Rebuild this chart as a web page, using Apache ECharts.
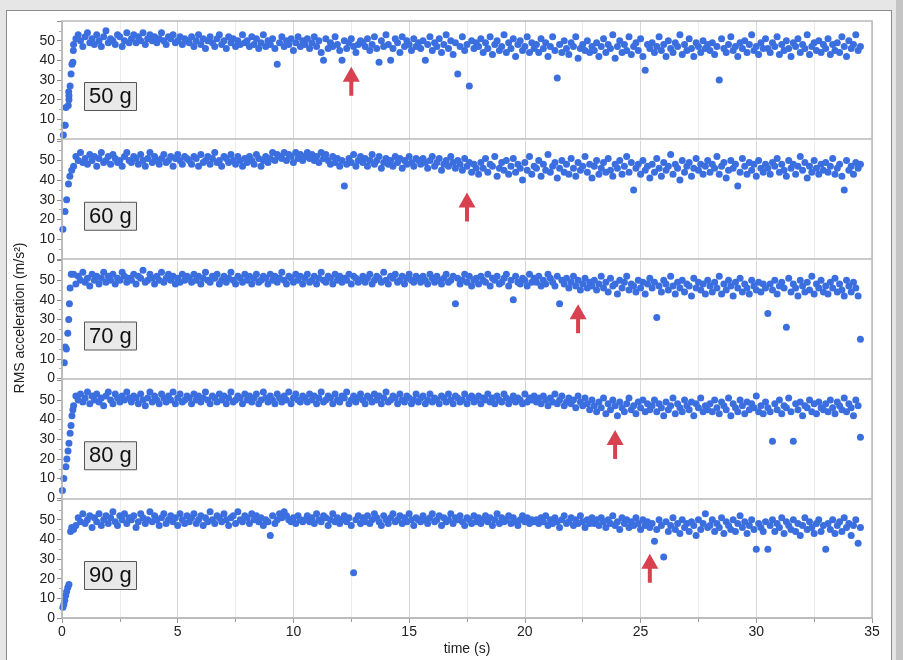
<!DOCTYPE html>
<html>
<head>
<meta charset="utf-8">
<script src="https://cdn.jsdelivr.net/npm/echarts@6/dist/echarts.min.js"></script>
<style>
  html, body { margin: 0; padding: 0; width: 903px; height: 660px; overflow: hidden; background: #e6e6e6; }
  #sheet { position: absolute; left: 6px; top: 10px; width: 884px; height: 660px; background: #fff;
           border-left: 1px solid #8a8a8a; border-top: 1px solid #8a8a8a; border-right: 1px solid #8a8a8a; }
  #shade { position: absolute; left: 896px; top: 0; width: 7px; height: 660px; background: #c4c4c4; }
  #chart { position: absolute; left: 0; top: 0; width: 903px; height: 660px; }
</style>
</head>
<body>
<div id="sheet"></div>
<div id="shade"></div>
<div id="chart"></div>
<script>
// Bob loads, one panel each
const massLabels = ['50 g', '60 g', '70 g', '80 g', '90 g'];

// Start-up transient (time in s, RMS acceleration in m/s²)
const rampTimes50  = [0.06, 0.1, 0.14, 0.17, 0.27, 0.3, 0.3, 0.29, 0.35, 0.39, 0.43, 0.47, 0.49];
const rampValues50 = [2, 7, 7, 16, 17, 20, 22, 24, 27, 33, 38, 39, 45];
const rampTimes60  = [0.04, 0.13, 0.2, 0.28, 0.34, 0.42];
const rampValues60 = [15, 24, 30, 38, 42, 45];
const rampTimes70  = [0.1, 0.14, 0.19, 0.25, 0.29, 0.32, 0.35, 0.4];
const rampValues70 = [8, 16, 15, 23, 30, 38, 46, 53];
const rampTimes80  = [0.02, 0.08, 0.17, 0.21, 0.26, 0.3, 0.35, 0.39, 0.43, 0.47];
const rampValues80 = [4, 10, 16, 20, 24, 28, 33, 37, 42, 45];
const rampTimes90  = [0.04, 0.08, 0.12, 0.16, 0.2, 0.25, 0.3, 0.37, 0.42];
const rampValues90 = [5.5, 7, 9, 11.5, 13.5, 15.5, 17, 44, 46];

// Steady running, sampled every 0.1 s from 0.5 s (one row = 2.5 s)
const sampleStart = 0.5;
const sampleStep = 0.1;

const rms50 = [
  48,51,53,50,47,52,54,49,51,48,53,50,47,52,55,49,51,50,48,53,52,47,50,54,49,
  51,53,49,52,50,54,48,51,53,50,52,49,51,54,50,48,52,51,53,49,50,52,48,51,50,
  49,52,47,50,53,48,51,46,50,52,49,47,51,53,48,50,46,52,49,51,47,50,48,53,49,
  50,47,52,48,51,46,49,53,47,50,48,51,46,38,49,52,47,50,48,51,45,49,52,47,50,
  48,51,46,49,52,47,50,44,40,51,46,49,47,52,48,45,40,50,46,49,51,47,44,48,50,
  49,47,51,45,48,52,46,39,50,47,53,48,40,46,51,49,44,52,47,50,48,45,51,47,49,
  46,50,40,48,52,45,49,47,51,44,48,53,46,50,43,49,33,47,52,45,48,27,50,46,49,
  47,51,44,49,46,52,43,48,50,45,47,53,44,49,46,51,42,48,50,45,47,52,44,49,46,
  48,44,51,46,49,42,47,52,45,31,48,44,50,46,43,49,47,52,41,46,48,45,50,44,47,
  45,49,42,47,51,44,48,46,53,41,47,50,44,48,45,52,43,47,49,45,51,42,35,48,46,
  49,44,47,52,45,48,42,50,46,44,49,47,53,43,48,45,51,46,42,49,47,44,50,46,48,
  45,49,43,47,30,51,46,44,48,52,45,47,42,49,46,50,44,48,53,45,47,43,49,46,51,
  46,44,49,47,52,43,48,45,50,46,42,49,47,51,44,48,46,53,43,47,49,45,50,44,48,
  46,51,43,48,45,49,44,52,47,42,50,46,48,53,45,47
];

const rms60 = [
  47,52,50,54,49,51,48,53,50,52,47,51,54,49,50,52,48,53,51,49,50,47,52,54,50,
  49,52,51,48,53,50,47,51,54,49,52,50,48,51,53,49,50,52,47,51,53,50,48,52,51,
  50,48,52,51,47,53,49,50,52,48,51,54,49,50,47,52,51,49,53,50,48,52,50,47,51,
  49,52,50,48,53,51,47,50,52,49,51,54,50,53,52,51,54,50,53,52,49,54,51,53,50,
  52,54,51,53,50,52,49,54,51,53,50,48,52,49,51,47,50,37,48,51,49,53,47,50,52,
  49,51,47,50,53,48,50,52,46,49,51,48,50,47,52,49,51,46,50,48,52,49,47,51,50,
  48,51,49,46,50,52,47,49,51,45,48,50,47,52,49,46,50,48,45,51,47,49,44,48,46,
  43,49,46,51,44,48,47,52,42,46,49,45,50,43,47,51,44,48,46,40,49,45,52,43,47,
  46,50,42,48,45,53,44,47,49,41,46,50,44,48,43,51,46,42,49,45,47,52,44,48,41,
  47,50,43,46,49,44,51,45,42,48,46,50,43,47,52,44,49,35,46,48,43,50,45,47,41,
  48,44,51,46,42,49,45,47,53,43,48,46,40,50,44,47,49,42,46,51,45,48,43,47,50,
  44,48,46,52,43,47,49,41,45,50,46,48,37,44,51,47,43,49,45,48,42,50,46,44,48,
  46,43,49,47,51,44,48,45,42,50,46,48,43,47,52,45,49,41,47,44,50,46,43,48,45,
  49,44,47,51,43,46,48,42,35,50,45,47,43,49,46,48
];

const rms70 = [
  53,48,52,50,54,49,51,47,53,50,52,48,51,54,49,52,50,53,48,51,50,54,52,49,51,
  50,53,48,52,51,55,49,50,53,51,48,52,50,54,49,51,53,50,52,48,51,49,53,50,52,
  51,49,53,50,52,48,51,54,50,49,52,51,53,48,50,52,49,51,54,50,48,52,51,49,53,
  50,52,48,51,53,49,50,52,51,48,53,50,52,49,51,54,50,48,52,51,49,53,50,52,48,
  51,53,49,50,52,48,51,54,50,49,52,51,48,53,50,52,49,51,50,53,48,52,51,49,50,
  52,49,51,53,48,50,52,51,49,54,50,48,52,51,53,49,50,52,48,51,53,50,49,52,51,
  49,52,50,48,53,51,49,52,50,48,51,53,49,50,52,38,51,48,50,53,49,52,47,50,51,
  48,52,50,49,53,47,51,50,52,48,49,51,53,47,50,40,52,49,48,51,50,47,53,49,51,
  49,52,47,50,48,53,51,49,47,52,38,50,48,51,46,49,52,47,50,45,48,51,46,49,47,
  50,45,48,52,46,49,44,51,47,48,43,50,46,49,52,45,48,47,44,50,46,49,43,48,51,
  46,49,31,47,44,50,48,45,52,47,43,49,46,50,44,48,47,42,51,46,49,45,48,43,50,
  47,44,49,46,52,43,48,45,50,47,42,49,46,51,44,48,46,43,50,47,45,49,44,48,46,
  33,48,45,50,43,47,49,46,26,51,44,48,46,42,50,47,44,49,45,52,43,48,46,50,44,
  47,43,49,46,51,44,48,45,42,50,47,44,49,46,42,20
];

const rms80 = [
  47,52,50,53,49,51,54,48,52,50,53,49,51,47,52,54,50,48,53,51,49,52,50,54,51,
  49,52,51,48,53,50,47,51,54,49,52,50,48,53,51,49,52,50,54,48,51,53,49,50,52,
  51,48,53,50,52,49,51,54,50,48,52,51,49,53,50,52,48,51,54,49,50,52,51,48,53,
  50,52,49,51,53,48,50,54,51,49,52,50,48,53,51,49,52,50,54,48,51,53,50,49,52,
  51,49,53,50,52,48,51,54,49,50,52,51,48,53,50,49,52,51,54,48,50,52,49,51,53,
  50,48,52,51,49,53,50,52,48,51,54,49,50,52,51,48,53,50,49,52,51,48,50,53,49,
  51,52,48,50,53,49,51,50,48,52,51,49,53,50,48,52,51,49,50,53,48,51,52,49,50,
  52,48,51,50,53,49,51,48,52,50,49,53,51,48,50,52,49,51,50,48,53,49,51,50,52,
  49,51,48,52,50,47,51,49,53,48,50,52,47,49,51,48,50,46,52,49,47,51,48,45,50,
  47,44,49,46,51,43,48,45,50,47,42,49,46,44,48,51,45,47,43,49,46,50,44,48,45,
  47,50,44,48,46,42,49,45,47,51,43,48,46,44,50,47,45,49,42,48,46,51,44,47,45,
  48,44,50,46,43,49,47,45,51,42,48,46,44,50,47,43,49,45,48,46,52,44,47,43,49,
  46,44,29,48,45,50,43,47,46,51,44,29,48,45,49,42,47,46,50,44,48,43,49,46,45,
  48,44,50,46,43,49,47,45,51,44,48,46,42,50,47,31
];

const rms90 = [
  45,47,51,49,53,48,50,52,46,51,49,53,47,50,52,48,51,54,49,47,52,50,53,48,51,
  50,52,46,49,53,51,48,50,54,49,52,50,47,51,53,48,50,52,49,51,47,53,50,48,52,
  49,51,53,48,50,52,47,51,49,54,50,48,52,51,49,53,50,47,51,52,48,54,50,49,52,
  51,48,53,50,52,49,51,47,50,49,42,52,48,50,53,51,54,52,50,49,51,48,52,50,49,
  50,52,49,51,48,53,50,49,52,51,47,50,53,49,51,48,50,52,49,51,47,23,50,52,48,
  51,49,52,48,50,53,51,49,47,52,50,48,51,53,49,50,52,48,51,49,53,50,47,51,50,
  49,52,50,48,51,53,49,50,52,47,51,49,50,53,48,51,50,52,49,47,51,50,48,52,49,
  51,48,50,52,49,51,47,50,53,48,51,49,50,52,48,51,49,47,50,52,49,51,48,50,49,
  50,48,51,49,52,47,50,48,51,49,46,50,52,48,49,51,47,50,48,52,49,46,50,48,51,
  48,50,47,51,49,46,50,48,52,47,49,45,51,48,50,46,49,47,51,48,45,50,47,49,46,
  48,39,45,50,47,31,49,44,47,51,45,48,43,50,46,48,44,49,47,42,50,45,48,53,46,
  47,50,44,48,46,51,43,49,47,45,50,44,48,52,46,49,43,47,50,45,35,48,46,44,49,
  35,47,50,44,48,46,51,43,49,47,45,50,44,48,42,47,51,45,49,46,43,48,50,44,47,
  35,48,45,50,43,47,49,44,51,46,48,42,47,50,38,46
];

// Onset of the wobble, marked per panel (time, value at arrow tip)
const arrowTimes = [12.5, 17.5, 22.3, 23.9, 25.4];
const arrowTipValues = [36.7, 33.7, 37.8, 34.7, 32.7];

const xTicks = [0, 35, 5];      // min, max, step
const yTicks = [0, 60, 10];

const rampTimes = [rampTimes50, rampTimes60, rampTimes70, rampTimes80, rampTimes90];
const rampValues = [rampValues50, rampValues60, rampValues70, rampValues80, rampValues90];
const rmsRuns = [rms50, rms60, rms70, rms80, rms90];

// ---- layout ----
const PLOT_LEFT = 62, PLOT_RIGHT = 872;
const PANEL_TOPS = [21, 140.75, 260.5, 380.25, 500];
const PANEL_H = 118;
const FONT = '"Liberation Sans", Arial, Helvetica, sans-serif';
const DOT = '#3b6fdf';
const ARROW = '#d8414f';
const FRAME = '#b9b9b9';

function panelPoints(k) {
  const pts = rampTimes[k].map((t, i) => [t, rampValues[k][i]]);
  rmsRuns[k].forEach((v, i) => pts.push([+(sampleStart + i * sampleStep).toFixed(2), v]));
  return pts;
}

const grids = [], xAxes = [], yAxes = [], series = [], titles = [];
PANEL_TOPS.forEach((top, k) => {
  const last = k === PANEL_TOPS.length - 1;
  grids.push({ left: PLOT_LEFT, top: top, width: PLOT_RIGHT - PLOT_LEFT, height: PANEL_H, containLabel: false });
  xAxes.push({
    gridIndex: k, type: 'value', min: xTicks[0], max: xTicks[1], interval: xTicks[2],
    axisLine: { show: true, lineStyle: { color: FRAME, width: 1.5 } },
    axisTick: { show: last, length: 5, lineStyle: { color: '#9a9a9a' } },
    minorTick: { show: last, splitNumber: 2, length: 4, lineStyle: { color: '#9a9a9a' } },
    axisLabel: { show: last, fontFamily: FONT, fontSize: 14, color: '#222', margin: 7 },
    splitLine: { show: true, lineStyle: { color: '#d6d6d6', width: 1 } },
    minorSplitLine: { show: true, lineStyle: { color: '#ececec', width: 1 } },
    name: last ? 'time (s)' : '', nameLocation: 'middle', nameGap: 24,
    nameTextStyle: { fontFamily: FONT, fontSize: 14, color: '#222' }
  });
  yAxes.push({
    gridIndex: k, type: 'value', min: yTicks[0], max: yTicks[1], interval: yTicks[2],
    axisLine: { show: true, lineStyle: { color: FRAME, width: 1.5 } },
    axisTick: { show: true, length: 5, lineStyle: { color: '#8f8f8f' } },
    minorTick: { show: true, splitNumber: 2, length: 3, lineStyle: { color: '#b0b0b0' } },
    axisLabel: { fontFamily: FONT, fontSize: 14, color: '#222', margin: 7, showMaxLabel: false,
                 formatter: v => (v >= yTicks[1] ? '' : String(v)) },
    splitLine: { show: false }
  });
  series.push({
    type: 'scatter', xAxisIndex: k, yAxisIndex: k,
    data: panelPoints(k), symbol: 'circle', symbolSize: 7,
    itemStyle: { color: DOT, opacity: 1 },
    silent: true,
    markPoint: {
      silent: true,
      symbol: 'path://M8.5,0 L17,15 L10.5,15 L10.5,29 L6.5,29 L6.5,15 L0,15 Z',
      symbolSize: [17, 29],
      symbolOffset: [0, '50%'],
      itemStyle: { color: ARROW },
      label: { show: false },
      data: [{ coord: [arrowTimes[k], arrowTipValues[k]] }]
    }
  });
  titles.push({
    text: massLabels[k], left: 84, top: top + 61,
    padding: [2, 5, 1, 5], backgroundColor: '#e9e9e9', borderColor: '#555', borderWidth: 1,
    textStyle: { fontFamily: FONT, fontSize: 22, fontWeight: 'normal', color: '#111', lineHeight: 26 }
  });
});

const chart = echarts.init(document.getElementById('chart'), null, { renderer: 'canvas' });
chart.setOption({
  animation: false,
  backgroundColor: 'transparent',
  title: titles,
  grid: grids,
  xAxis: xAxes,
  yAxis: yAxes,
  series: series,
  graphic: [
    { type: 'rect', silent: true, z: 10,
      shape: { x: PLOT_LEFT, y: PANEL_TOPS[0], width: PLOT_RIGHT - PLOT_LEFT,
               height: PANEL_TOPS[4] + PANEL_H - PANEL_TOPS[0] },
      style: { fill: 'none', stroke: FRAME, lineWidth: 1.5 } },
    { type: 'text', silent: true, x: 20, y: 318, rotation: Math.PI / 2,
      style: { text: 'RMS acceleration (m/s²)', font: '14px ' + FONT, fill: '#222',
               textAlign: 'center', textVerticalAlign: 'middle' } }
  ]
});
</script>
</body>
</html>
